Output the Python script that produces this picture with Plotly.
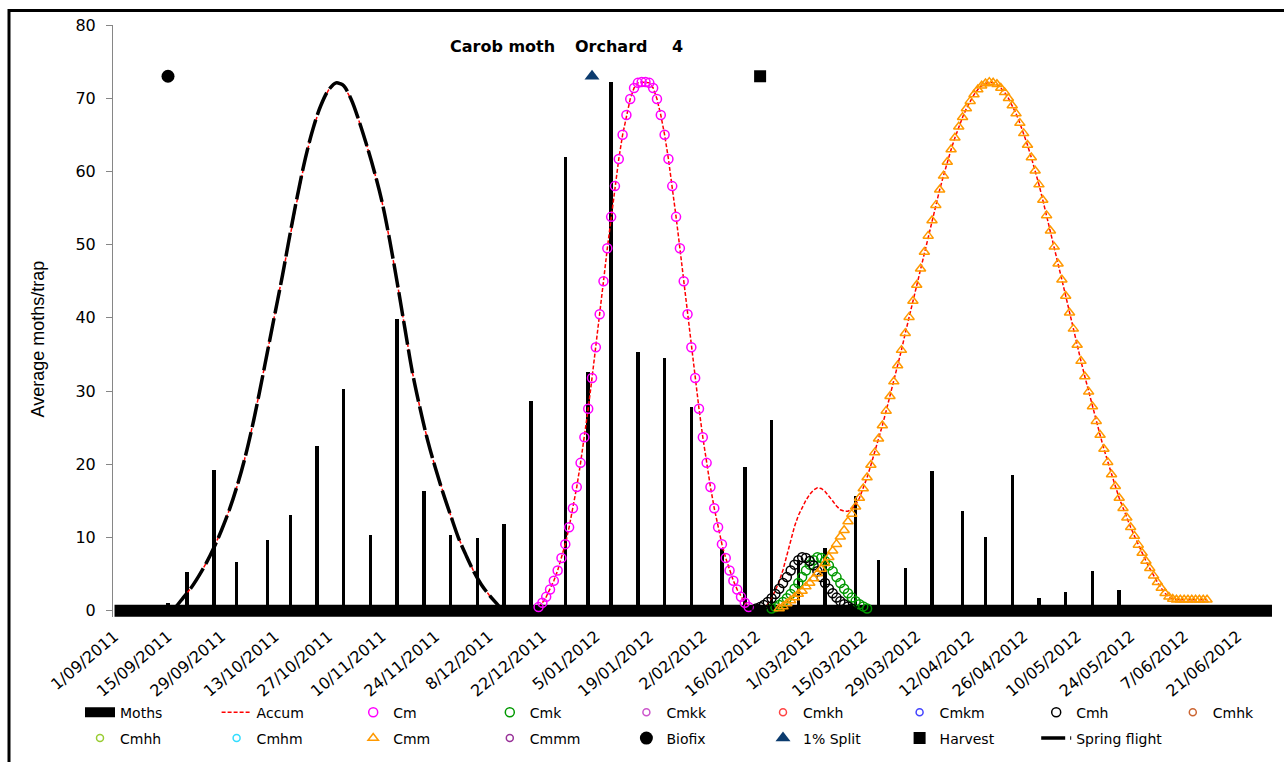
import pandas as pd
import plotly.graph_objects as go

# ---------------- data ----------------
season_start = "2011-09-01"
season_end = "2012-06-30"

moth_dates = ["2011-09-05", "2011-09-15", "2011-09-20", "2011-09-27", "2011-10-03", "2011-10-11",
              "2011-10-17", "2011-10-24", "2011-10-31", "2011-11-07", "2011-11-14", "2011-11-21",
              "2011-11-28", "2011-12-05", "2011-12-12", "2011-12-19", "2011-12-28", "2012-01-03",
              "2012-01-09", "2012-01-16", "2012-01-23", "2012-01-30", "2012-02-07", "2012-02-13",
              "2012-02-20", "2012-02-27", "2012-03-05", "2012-03-13", "2012-03-19", "2012-03-26",
              "2012-04-02", "2012-04-10", "2012-04-16", "2012-04-23", "2012-04-30", "2012-05-07",
              "2012-05-14", "2012-05-21"]
moth_values = [0.5, 1.0, 5.3, 19.2, 6.7, 9.7, 13.1, 22.5, 30.3, 10.3, 39.8, 16.3, 10.3, 10.0,
               11.9, 28.6, 62.0, 32.6, 72.2, 35.3, 34.5, 27.8, 8.5, 19.7, 26.1, 6.9, 8.6, 15.7,
               6.9, 5.8, 19.1, 13.6, 10.1, 18.5, 1.8, 2.5, 5.5, 2.8]

# spring flight (days after season start)
spring_days = [15, 16, 18, 20, 22, 24, 26, 28, 30, 32, 34, 36, 38, 40, 42, 44, 46, 48, 50, 52, 54,
               56, 58, 59, 60, 62, 64, 66, 68, 70, 72, 74, 76, 78, 80, 82, 84, 86, 88, 90, 92, 94,
               96, 98, 100, 101, 102]
spring_values = [0.0, 0.5, 1.8, 3.1, 4.7, 6.5, 8.6, 11.0, 13.7, 16.9, 20.6, 25.0, 30.0, 35.3, 40.6,
                 45.9, 51.6, 57.0, 61.9, 65.9, 69.0, 71.1, 72.1, 72.0, 71.7, 69.8, 66.9, 63.6, 60.0,
                 55.9, 50.7, 44.8, 38.6, 32.5, 27.6, 23.2, 19.5, 16.1, 13.0, 10.0, 7.6, 5.4, 3.6,
                 2.2, 1.0, 0.4, 0.0]

cm_start = "2011-12-21"
cm_values = [0.5, 1.1, 1.9, 2.9, 4.1, 5.5, 7.2, 9.1, 11.4, 14.0, 16.9, 20.2, 23.7, 27.6, 31.8, 36.0,
             40.5, 45.0, 49.5, 53.8, 58.0, 61.7, 65.0, 67.7, 69.9, 71.4, 72.1, 72.2, 72.2, 72.1,
             71.4, 69.9, 67.7, 65.0, 61.7, 58.0, 53.8, 49.5, 45.0, 40.5, 36.0, 31.8, 27.6, 23.7,
             20.2, 16.9, 14.0, 11.4, 9.1, 7.2, 5.5, 4.1, 2.9, 1.9, 1.1, 0.5]

cmh_start = "2012-02-16"
cmh_values = [0.3, 0.5, 0.8, 1.2, 1.7, 2.3, 3.0, 3.8, 4.6, 5.5, 6.3, 6.9, 7.3, 7.2, 6.8, 6.2, 5.4,
              4.6, 3.8, 3.0, 2.4, 1.8, 1.3, 0.9, 0.6, 0.3]

cmk_start = "2012-02-20"
cmk_values = [0.3, 0.5, 0.8, 1.2, 1.7, 2.3, 3.0, 3.8, 4.6, 5.5, 6.3, 6.9, 7.3, 7.2, 6.8, 6.2, 5.4,
              4.6, 3.8, 3.0, 2.4, 1.8, 1.3, 0.9, 0.6, 0.3]

cmm_start = "2012-02-22"
cmm_values = [0.3, 0.6, 1.0, 1.4, 1.8, 2.3, 2.7, 3.3, 3.8, 4.4,
              5.1, 5.7, 6.5, 7.3, 8.2, 9.1, 10.1, 11.0, 12.2, 13.2,
              14.2, 15.4, 16.7, 18.2, 19.9, 21.6, 23.5, 25.3, 27.3, 29.3,
              31.3, 33.5, 35.6, 37.9, 40.1, 42.3, 44.5, 46.7, 49.0, 51.2,
              53.3, 55.4, 57.5, 59.4, 61.3, 63.0, 64.6, 66.1, 67.4, 68.6,
              69.6, 70.5, 71.2, 71.7, 72.0, 72.2, 72.1, 71.9, 71.4, 70.8,
              70.0, 69.0, 67.9, 66.6, 65.2, 63.6, 61.9, 60.1, 58.2, 56.1,
              54.0, 51.9, 49.7, 47.4, 45.2, 43.0, 40.7, 38.5, 36.3, 34.1,
              32.0, 29.9, 27.9, 25.9, 24.0, 22.1, 20.3, 18.6, 17.0, 15.4,
              14.0, 12.7, 11.4, 10.2, 9.0, 7.9, 6.8, 5.8, 4.8, 3.9,
              3.1, 2.4, 1.9, 1.6, 1.5, 1.5, 1.5, 1.5, 1.5, 1.5, 1.5, 1.5, 1.5]

# accumulated curve around the overlap of Cmh / Cmk / Cmm
accum_bump_start = "2012-02-16"
accum_bump_values = [0.1, 0.2, 0.4, 0.9, 1.7, 2.8, 4.0, 5.6, 7.6, 9.7, 11.5, 13.0, 14.1, 15.1,
                     15.9, 16.5, 16.8, 16.7, 16.3, 15.7, 15.0, 14.3, 13.8, 13.6, 13.6, 13.9,
                     14.5, 15.4]

no_catch = [None]  # generations without catches in this orchard (legend only)

biofix_date, biofix_value = "2011-09-15", 73.0
split_date, split_value = "2012-01-04", 73.0
harvest_date, harvest_value = "2012-02-17", 73.0

x_tick_start = "2011-09-01"
x_tick_days = 14
y_ticks = [0, 10, 20, 30, 40, 50, 60, 70, 80]

# ---------------- helpers ----------------
def daily(start, values):
    return list(pd.date_range(start, periods=len(values), freq="D"))

start_ts = pd.Timestamp(season_start)
spring_x = [start_ts + pd.Timedelta(days=d) for d in spring_days]
cm_x = daily(cm_start, cm_values)
cmh_x = daily(cmh_start, cmh_values)
cmk_x = daily(cmk_start, cmk_values)
cmm_x = daily(cmm_start, cmm_values)
bump_x = daily(accum_bump_start, accum_bump_values)

bump_end = bump_x[-1]
cmm_tail_x = [d for d in cmm_x if d > bump_end]
cmm_tail_y = [v for d, v in zip(cmm_x, cmm_values) if d > bump_end]
accum_x = spring_x + [None] + cm_x + [None] + bump_x + cmm_tail_x
accum_y = spring_values + [None] + cm_values + [None] + accum_bump_values + cmm_tail_y

# ---------------- layout geometry ----------------
W, H = 1284, 762
ML, MR, MT, MB = 113, 8, 25, 142
PW = W - ML - MR
PH = H - MT - MB
DAY_MS = 86400000
COL = 136.6  # legend column pitch in px

def px_x(px):
    return (px - ML) / PW

def px_y(py):
    return 1 - (py - MT) / PH

FONT = "DejaVu Sans"

fig = go.Figure()

# Moth bars
fig.add_trace(go.Bar(x=moth_dates, y=moth_values, width=0.9 * DAY_MS,
                     marker=dict(color="black", line=dict(width=0)),
                     showlegend=False, name="Moths", hoverinfo="skip"))

fig.add_trace(go.Scatter(x=accum_x, y=accum_y, mode="lines", name="Accum",
                         line=dict(color="#FF0000", width=1.5, dash="4px,2px"),
                         legend="legend", legendrank=2, connectgaps=False))

# Moths baseline (legend entry)
fig.add_trace(go.Scatter(x=[season_start, season_end], y=[0, 0], mode="lines",
                         line=dict(color="black", width=12), name="Moths",
                         legend="legend", legendrank=1))

def marker_trace(name, x, y, color, symbol, legend, rank, size=9):
    return go.Scatter(x=x, y=y, mode="markers", name=name, legend=legend, legendrank=rank,
                      marker=dict(symbol=symbol, size=size, color=color,
                                  line=dict(color=color, width=1.5)))

fig.add_trace(marker_trace("Cm", cm_x, cm_values, "#FF00FF", "circle-open", "legend", 3))
fig.add_trace(marker_trace("Cmk", cmk_x, cmk_values, "#009900", "circle-open", "legend", 4))
fig.add_trace(marker_trace("Cmkk", [season_start], no_catch, "#CC55CC", "circle-open", "legend", 5, 7))
fig.add_trace(marker_trace("Cmkh", [season_start], no_catch, "#FF4444", "circle-open", "legend", 6, 7))
fig.add_trace(marker_trace("Cmkm", [season_start], no_catch, "#4444FF", "circle-open", "legend", 7, 7))
fig.add_trace(marker_trace("Cmh", cmh_x, cmh_values, "#000000", "circle-open", "legend", 8))
fig.add_trace(marker_trace("Cmhk", [season_start], no_catch, "#CC6633", "circle-open", "legend3", 9, 7))
fig.add_trace(marker_trace("Cmhh", [season_start], no_catch, "#99CC33", "circle-open", "legend2", 10, 7))
fig.add_trace(marker_trace("Cmhm", [season_start], no_catch, "#33DDFF", "circle-open", "legend2", 11, 7))
fig.add_trace(marker_trace("Cmm", cmm_x, cmm_values, "#FF9900", "triangle-up-open", "legend2", 12))
fig.add_trace(marker_trace("Cmmm", [season_start], no_catch, "#993399", "circle-open", "legend2", 13, 7))
fig.add_trace(go.Scatter(x=[biofix_date], y=[biofix_value], mode="markers", name="Biofix",
                         legend="legend2", legendrank=14,
                         marker=dict(symbol="circle", size=13, color="black")))
fig.add_trace(go.Scatter(x=[split_date], y=[split_value], mode="markers", name="1% Split",
                         legend="legend2", legendrank=15,
                         marker=dict(symbol="triangle-up", size=13, color="#0B3B6E")))
fig.add_trace(go.Scatter(x=[harvest_date], y=[harvest_value], mode="markers", name="Harvest",
                         legend="legend2", legendrank=16,
                         marker=dict(symbol="square", size=12, color="black")))
fig.add_trace(go.Scatter(x=spring_x, y=spring_values, mode="lines", name="Spring flight",
                         line=dict(color="black", width=3.5, dash="24px,5px", shape="spline"),
                         legend="legend2", legendrank=17))

x_range = [start_ts - pd.Timedelta(hours=9.6), start_ts + pd.Timedelta(days=304.05)]

legend_common = dict(orientation="h", xanchor="left", yanchor="top",
                     entrywidth=COL - 45, entrywidthmode="pixels", bgcolor="rgba(0,0,0,0)",
                     font=dict(family=FONT, size=14, color="black"), itemwidth=30,
                     traceorder="normal")
legend_single = {k: v for k, v in legend_common.items() if k not in ("entrywidth", "entrywidthmode")}

fig.update_layout(
    width=W, height=H,
    margin=dict(l=ML, r=MR, t=MT, b=MB, pad=0),
    paper_bgcolor="white", plot_bgcolor="white",
    font=dict(family=FONT, size=16, color="black"),
    bargap=0,
    xaxis=dict(type="date", range=x_range, tick0=x_tick_start, dtick=x_tick_days * DAY_MS,
               tickformat="%-d/%m/%Y", tickangle=-40, showgrid=False, zeroline=False,
               showline=False, ticks="", ticklabelstandoff=6,
               tickfont=dict(family=FONT, size=16, color="black")),
    yaxis=dict(range=[-0.85, 80], tickmode="array", tickvals=y_ticks, showgrid=False,
               zeroline=False, showline=True, linecolor="#868686", linewidth=1,
               ticks="outside", ticklen=6, tickcolor="#868686", ticklabelstandoff=7,
               tickfont=dict(family=FONT, size=16, color="black")),
    legend=dict(legend_common, x=px_x(80), y=px_y(700)),
    legend3=dict(legend_single, x=px_x(80 + 8 * COL), y=px_y(700)),
    legend2=dict(legend_common, x=px_x(80), y=px_y(726)),
    showlegend=True,
)

# title pieces
for txt, left in [("Carob moth", 448), ("Orchard", 573), ("4", 670)]:
    fig.add_annotation(text="<b>" + txt + "</b>", xref="paper", yref="paper",
                       x=px_x(left), y=px_y(47), xanchor="left", yanchor="middle",
                       showarrow=False, font=dict(family=FONT, size=16, color="black"))

fig.add_annotation(text="Average moths/trap", xref="paper", yref="paper",
                   x=px_x(38), y=px_y(341), textangle=-90, showarrow=False,
                   xanchor="center", yanchor="middle",
                   font=dict(family="Liberation Sans", size=18, color="black"))

# outer chart border
fig.add_shape(type="rect", xref="paper", yref="paper",
              x0=px_x(9), x1=px_x(1300), y0=px_y(780), y1=px_y(10.5),
              line=dict(color="black", width=3), fillcolor="rgba(0,0,0,0)", layer="above")

fig.write_html("out.html")
